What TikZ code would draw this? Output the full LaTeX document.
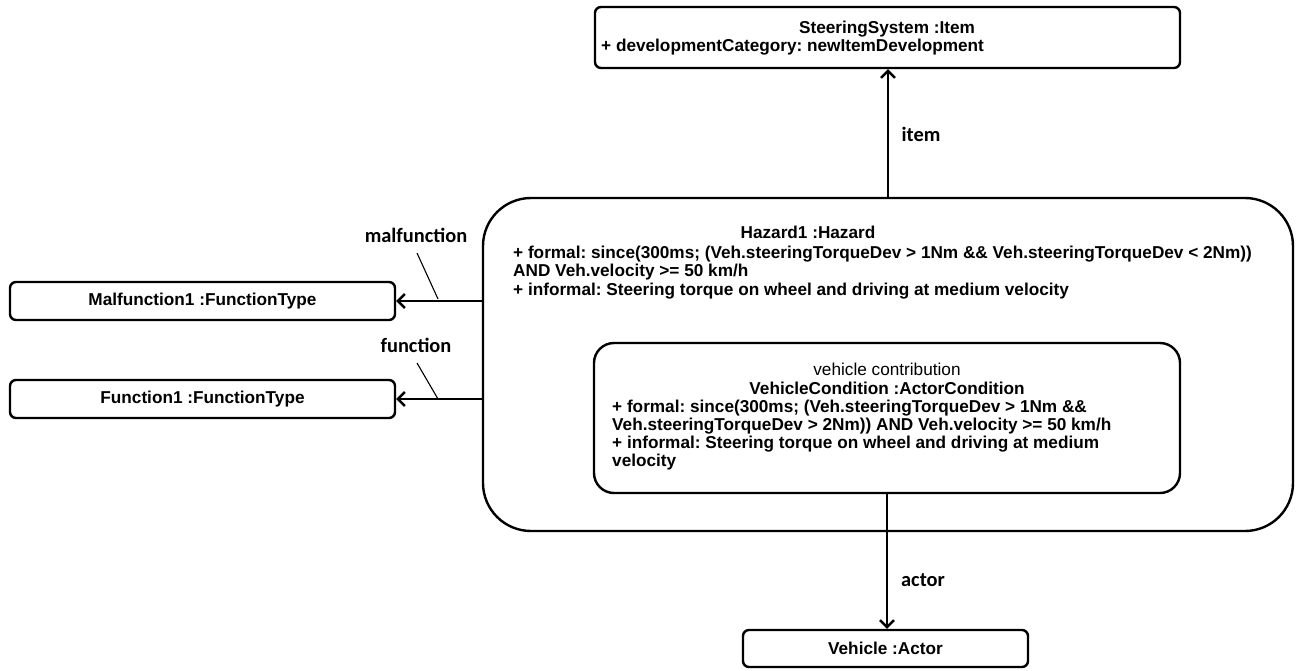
\documentclass[tikz,border=0pt]{standalone}
\usepackage{fontspec}
\setmainfont{Liberation Sans}
\newfontfamily\rolefont{Carlito}
\usetikzlibrary{arrows.meta}
\frenchspacing

\begin{document}
\begin{tikzpicture}[x=1pt,y=-1pt,
  objbox/.style={draw, line width=2.4pt, rounded corners=6pt, inner sep=0pt},
  bodytxt/.style={anchor=base west, inner sep=0pt, font=\bfseries\fontsize{17.2}{20}\selectfont},
  titletxt/.style={anchor=base, inner sep=0pt, font=\bfseries\fontsize{17.2}{20}\selectfont},
  link/.style={line width=2.4pt, -{Straight Barb[length=7pt,width=14pt]}},
  rolelbl/.style={inner sep=0pt, font=\rolefont\bfseries\fontsize{20.4}{24}\selectfont},
  tick/.style={line width=1.1pt}
]
\useasboundingbox (0,0) rectangle (1302,670);

% object boxes
\node[objbox, minimum width=585pt, minimum height=61pt] (item) at (887.5,37.5) {};
\node[objbox, rounded corners=48pt, minimum width=810pt, minimum height=333pt] (haz) at (888,364.5) {};
\node[objbox, rounded corners=20pt, minimum width=586pt, minimum height=150pt] (cond) at (887,418) {};
\node[objbox, minimum width=385pt, minimum height=38pt] (mal) at (202.5,301) {};
\node[objbox, minimum width=385pt, minimum height=38pt] (fun) at (202.5,399) {};
\node[objbox, minimum width=285pt, minimum height=37pt] (veh) at (885.5,648.5) {};

% texts of the item
\node[titletxt] (itemT) at (887,33) {SteeringSystem :Item};
\node[bodytxt] (itemA) at (601,51) {+ developmentCategory: newItemDevelopment};

% texts of the hazard
\node[titletxt] (hazT) at (808,238) {Hazard1 :Hazard};
\node[bodytxt] (hazA) at (513,258) {+ formal: since(300ms; (Veh.steeringTorqueDev > 1Nm \&\& Veh.steeringTorqueDev < 2Nm))};
\node[bodytxt] (hazB) at (513,276.5) {AND Veh.velocity >= 50 km/h};
\node[bodytxt] (hazC) at (513,295) {+ informal: Steering torque on wheel and driving at medium velocity};

% texts of the vehicle condition
\node[titletxt, font=\fontsize{17.2}{20}\selectfont] (condS) at (887,375) {vehicle contribution};
\node[titletxt] (condT) at (887,394) {VehicleCondition :ActorCondition};
\node[bodytxt] (condA) at (612,412) {+ formal: since(300ms; (Veh.steeringTorqueDev > 1Nm \&\&};
\node[bodytxt] (condB) at (612,430) {Veh.steeringTorqueDev > 2Nm)) AND Veh.velocity >= 50 km/h};
\node[bodytxt] (condC) at (612,448) {+ informal: Steering torque on wheel and driving at medium};
\node[bodytxt] (condD) at (612,466) {velocity};

% texts of the other objects
\node[titletxt, anchor=center] (malT) at (mal) {Malfunction1 :FunctionType};
\node[titletxt, anchor=center] (funT) at (fun) {Function1 :FunctionType};
\node[titletxt, anchor=center] (vehT) at (veh) {Vehicle :Actor};

% associations
\draw[link] (haz.north) -- (haz.north |- item.south);
\draw[link] (haz.west |- mal.east) -- (mal.east);
\draw[link] (haz.west |- fun.east) -- (fun.east);
\draw[link] (cond.south) -- (cond.south |- veh.north);

% role names
\node[rolelbl] (itemR) at (921,134) {item};
\node[rolelbl] (actR) at (923,580) {actor};
\node[rolelbl] (malR) at (416,235) {malfunction};
\node[rolelbl] (funR) at (416,345) {function};

\coordinate (malTa) at (417,253);
\coordinate (malTb) at (438,299);
\coordinate (funTa) at (417,363);
\coordinate (funTb) at (438,399);
\draw[tick] (malTa) -- (malTb);
\draw[tick] (funTa) -- (funTb);
\end{tikzpicture}
\end{document}
